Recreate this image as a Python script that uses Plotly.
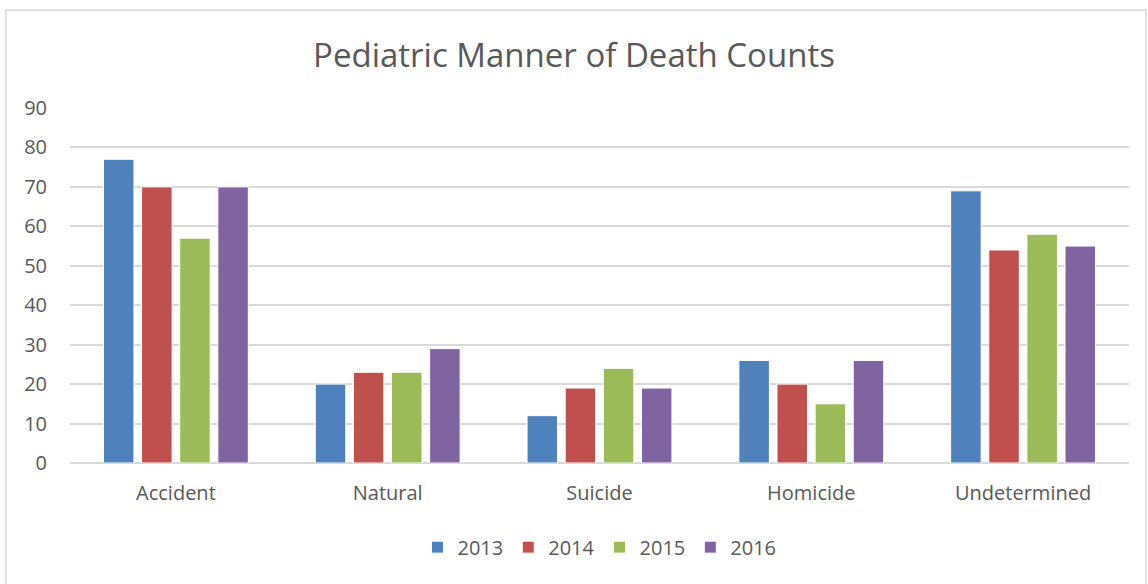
import plotly.graph_objects as go

categories = ["Accident", "Natural", "Suicide", "Homicide", "Undetermined"]
years = ["2013", "2014", "2015", "2016"]
v2013 = [77, 20, 12, 26, 69]
v2014 = [70, 23, 19, 20, 54]
v2015 = [57, 23, 24, 15, 58]
v2016 = [70, 29, 19, 26, 55]
y_ticks = [0, 10, 20, 30, 40, 50, 60, 70, 80, 90]

colors = ["#4F81BD", "#C0504D", "#9BBB59", "#8064A2"]
series = [v2013, v2014, v2015, v2016]

FONT = "Open Sans, Liberation Sans, sans-serif"
TXT = "#595959"

fig = go.Figure()
for name, vals, c in zip(years, series, colors):
    fig.add_trace(go.Bar(
        x=categories, y=vals, name=name,
        marker=dict(color=c, line=dict(color="white", width=1)),
    ))

fig.update_layout(
    width=1148, height=584,
    margin=dict(l=70, r=19, t=108, b=121),
    paper_bgcolor="white", plot_bgcolor="white",
    barmode="group", bargap=0.28, bargroupgap=0.2,
    title=dict(text="Pediatric Manner of Death Counts", x=0.5, xanchor="center",
               y=1 - 55 / 584, yanchor="middle",
               font=dict(family=FONT, size=33, color=TXT)),
    font=dict(family=FONT, color=TXT),
    legend=dict(orientation="h", x=0.5, xanchor="center", y=-0.237, yanchor="middle",
                font=dict(family=FONT, size=20, color=TXT),
                itemwidth=30, traceorder="normal"),
    xaxis=dict(showgrid=False, showline=False, ticks="",
               tickfont=dict(family=FONT, size=20, color=TXT), ticklabelstandoff=16),
    yaxis=dict(range=[0, 90], tickvals=y_ticks, showgrid=True, gridcolor="#D9D9D9",
               gridwidth=1.5, zeroline=True, zerolinecolor="#D9D9D9", zerolinewidth=1.5,
               showline=False, ticks="",
               tickfont=dict(family=FONT, size=20, color=TXT), ticklabelstandoff=22),
    shapes=[dict(type="rect", xref="paper", yref="paper",
                 x0=(6 - 70) / 1059, x1=(1146 - 70) / 1059,
                 y0=-0.6, y1=(463 - 10) / 355,
                 line=dict(color="#D9D9D9", width=1.5), fillcolor="rgba(0,0,0,0)",
                 layer="below")],
)

fig.write_html("out.html", config={"displayModeBar": False},
               post_script="document.body.style.margin='0';")
